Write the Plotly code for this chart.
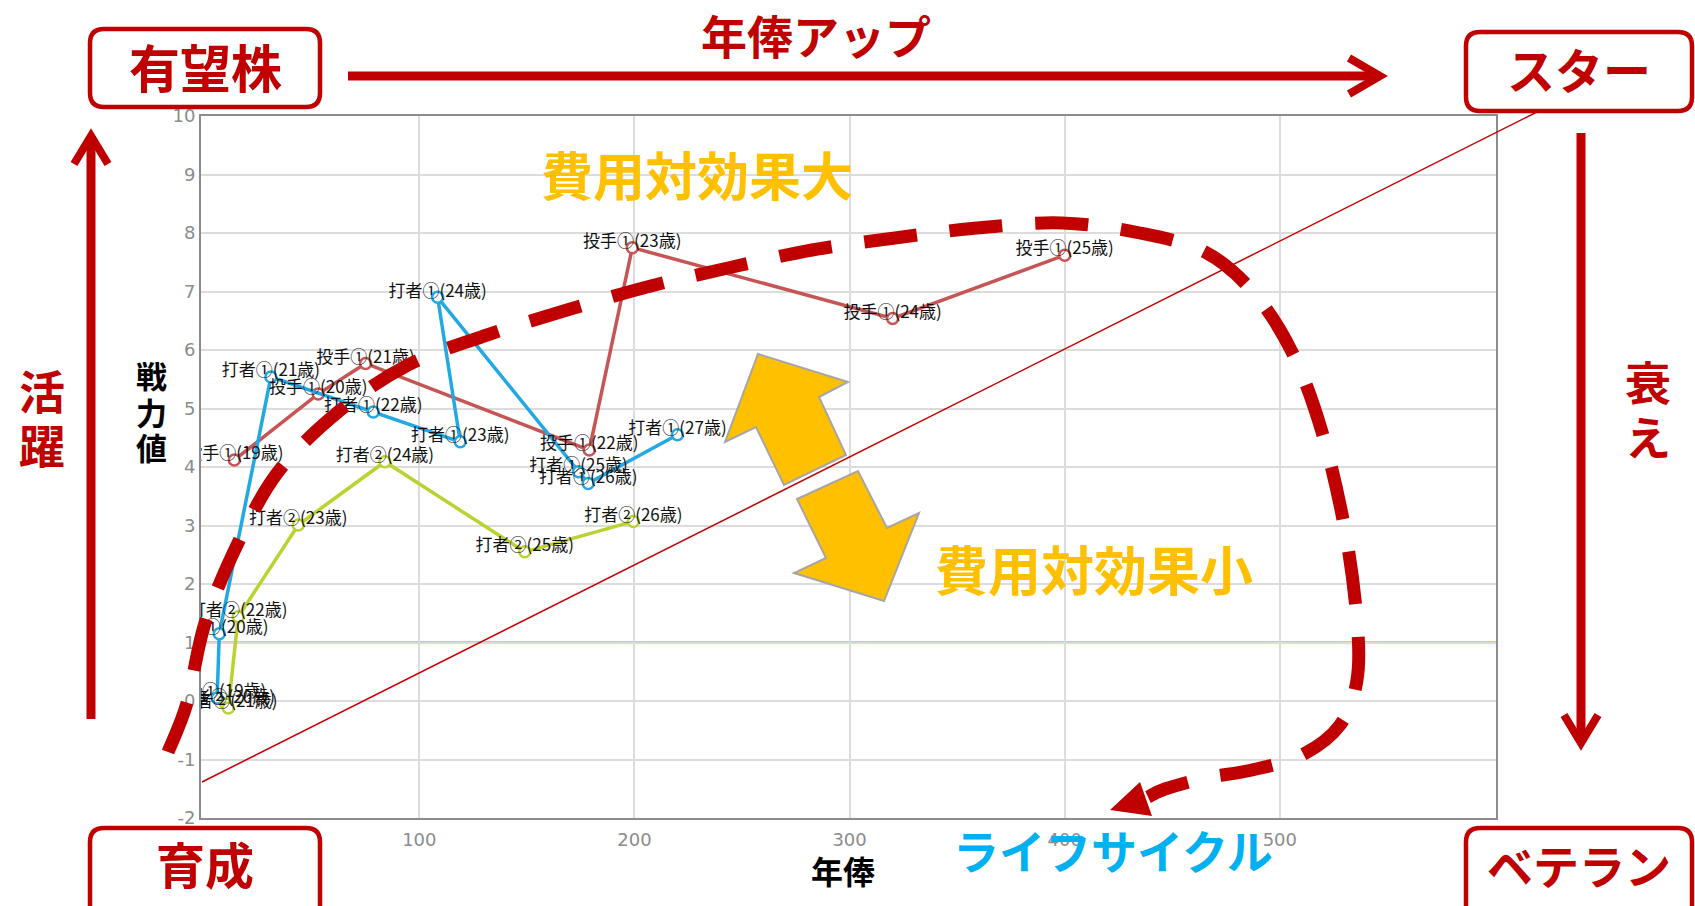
import plotly.graph_objects as go

# ---------------- data ----------------
pitcher_name = "投手①"
pitcher_ages = [19, 20, 21, 22, 23, 24, 25]
pitcher_salary = [14, 53, 75, 179, 199, 320, 400]
pitcher_power = [4.12, 5.25, 5.77, 4.29, 7.75, 6.54, 7.62]

batter1_name = "打者①"
batter1_ages = [19, 20, 21, 22, 23, 24, 25, 26, 27]
batter1_salary = [6, 7, 31, 78.6, 119, 108.5, 174, 178.5, 220]
batter1_power = [0.05, 1.15, 5.54, 4.94, 4.43, 6.9, 3.92, 3.72, 4.55]

batter2_name = "打者②"
batter2_ages = [20, 21, 22, 23, 24, 25, 26]
batter2_salary = [10, 11.2, 15.8, 43.7, 84, 149, 199.5]
batter2_power = [-0.05, -0.12, 1.44, 3.01, 4.09, 2.55, 3.07]

x_ticks = [100, 200, 300, 400, 500]
y_ticks = list(range(-2, 11))
y_tick_text = [str(v) for v in y_ticks]
threshold = 1

# ---------------- layout geometry ----------------
W, H = 1695, 906
L, R, T, B = 201, 1496, 116, 818
PW, PH = R - L, B - T

def X(px):
    return (px - L) / PW

def Y(py):
    return (B - py) / PH

DARK_RED = "#C00000"
FONT_JP = "Noto Sans CJK JP"

fig = go.Figure()

series = [
    (pitcher_name, pitcher_ages, pitcher_salary, pitcher_power, "#C65555"),
    (batter1_name, batter1_ages, batter1_salary, batter1_power, "#22A8E2"),
    (batter2_name, batter2_ages, batter2_salary, batter2_power, "#BCD230"),
]

for name, ages, xs, ys, col in series:
    fig.add_trace(go.Scatter(
        x=xs, y=ys, mode="lines+markers",
        line=dict(color=col, width=3.5),
        marker=dict(symbol="circle", size=11, color="white",
                    line=dict(color=col, width=2.5)),
        hoverinfo="skip", cliponaxis=True,
    ))

for name, ages, xs, ys, col in series:
    fig.add_trace(go.Scatter(
        x=xs, y=ys, yaxis="y2", mode="text",
        text=[f"{name}({a}歳)" for a in ages],
        textposition="middle center",
        textfont=dict(family=FONT_JP, size=17, color="#111111"),
        hoverinfo="skip", cliponaxis=True,
    ))

shapes = []

# threshold line at 1
shapes.append(dict(type="line", xref="paper", yref="y", x0=0, x1=1,
                   y0=threshold, y1=threshold, layer="between",
                   line=dict(color="#FF6A33", width=2)))

# thin diagonal line
shapes.append(dict(type="line", xref="paper", yref="paper",
                   x0=X(202), y0=Y(782), x1=X(1537), y1=Y(112),
                   line=dict(color=DARK_RED, width=1.5)))

# dashed life-cycle curve (catmull-rom -> bezier)
curve = [
    (168, 752), (187, 703), (205, 623), (238, 543), (278, 472), (338, 412),
    (408, 365), (487, 335), (567, 310), (647, 287), (728, 268), (812, 250),
    (895, 238), (977, 228), (1062, 223), (1140, 233), (1205, 252),
    (1253, 292), (1292, 352), (1322, 432), (1345, 530), (1357, 620),
    (1357, 680), (1340, 725), (1302, 755), (1252, 770), (1205, 778),
    (1165, 789), (1148, 797),
]

def catmull(pts):
    d = f"M{X(pts[0][0]):.5f},{Y(pts[0][1]):.5f}"
    n = len(pts)
    for i in range(n - 1):
        p0 = pts[i - 1] if i > 0 else pts[i]
        p1 = pts[i]
        p2 = pts[i + 1]
        p3 = pts[i + 2] if i + 2 < n else pts[i + 1]
        c1 = (p1[0] + (p2[0] - p0[0]) / 6, p1[1] + (p2[1] - p0[1]) / 6)
        c2 = (p2[0] - (p3[0] - p1[0]) / 6, p2[1] - (p3[1] - p1[1]) / 6)
        d += (f" C{X(c1[0]):.5f},{Y(c1[1]):.5f} {X(c2[0]):.5f},{Y(c2[1]):.5f}"
              f" {X(p2[0]):.5f},{Y(p2[1]):.5f}")
    return d

shapes.append(dict(type="path", xref="paper", yref="paper", path=catmull(curve),
                   line=dict(color=DARK_RED, width=13, dash="53px,33px")))

def poly(pts):
    return "M" + " L".join(f"{X(a):.5f},{Y(b):.5f}" for a, b in pts) + " Z"

# arrow head of the curve
shapes.append(dict(type="path", xref="paper", yref="paper",
                   path=poly([(1140, 782), (1110, 810), (1152, 816)]),
                   fillcolor=DARK_RED, line=dict(width=0)))

# yellow double arrow (two pieces)
up_arrow = [(758, 354), (848, 382), (819, 397), (846, 455), (784, 485),
            (756, 427), (725, 442)]
down_arrow = [(797, 499), (858, 471), (887, 528), (919, 513), (884, 601),
              (794, 573), (826, 558)]
for pts in (up_arrow, down_arrow):
    shapes.append(dict(type="path", xref="paper", yref="paper", path=poly(pts),
                       fillcolor="#FFC000", line=dict(color="#A6A6A6", width=2)))

# rounded boxes
def rbox(x0, y0, x1, y1, r=14):
    pts = (f"M{X(x0 + r):.5f},{Y(y0):.5f} L{X(x1 - r):.5f},{Y(y0):.5f} "
           f"Q{X(x1):.5f},{Y(y0):.5f} {X(x1):.5f},{Y(y0 + r):.5f} "
           f"L{X(x1):.5f},{Y(y1 - r):.5f} "
           f"Q{X(x1):.5f},{Y(y1):.5f} {X(x1 - r):.5f},{Y(y1):.5f} "
           f"L{X(x0 + r):.5f},{Y(y1):.5f} "
           f"Q{X(x0):.5f},{Y(y1):.5f} {X(x0):.5f},{Y(y1 - r):.5f} "
           f"L{X(x0):.5f},{Y(y0 + r):.5f} "
           f"Q{X(x0):.5f},{Y(y0):.5f} {X(x0 + r):.5f},{Y(y0):.5f} Z")
    return dict(type="path", xref="paper", yref="paper", path=pts,
                fillcolor="white", line=dict(color=DARK_RED, width=4.5))

shapes.append(rbox(90, 29, 320, 107))
shapes.append(rbox(1466, 32, 1692, 111))
shapes.append(rbox(90, 828, 320, 930))
shapes.append(rbox(1466, 828, 1692, 930))

# arrows: top horizontal, left vertical, right vertical
def seg(x0, y0, x1, y1, w=9):
    return dict(type="line", xref="paper", yref="paper",
                x0=X(x0), y0=Y(y0), x1=X(x1), y1=Y(y1),
                line=dict(color=DARK_RED, width=w))

def chevron(pts, w=8):
    d = "M" + " L".join(f"{X(a):.5f},{Y(b):.5f}" for a, b in pts)
    return dict(type="path", xref="paper", yref="paper", path=d,
                line=dict(color=DARK_RED, width=w))

shapes.append(seg(348, 76, 1378, 76))
shapes.append(chevron([(1349, 58), (1380, 76), (1349, 94)]))
shapes.append(seg(91, 719, 91, 137))
shapes.append(chevron([(74, 164), (91, 136), (108, 164)]))
shapes.append(seg(1581, 133, 1581, 743))
shapes.append(chevron([(1564, 715), (1581, 743), (1598, 715)]))

annotations = []

def txt(x, y, s, size, color, bold=True):
    annotations.append(dict(
        xref="paper", yref="paper", x=X(x), y=Y(y),
        text=(f"<b>{s}</b>" if bold else s),
        showarrow=False, xanchor="center", yanchor="middle",
        font=dict(family=FONT_JP, size=size, color=color)))

txt(205, 66, "有望株", 51, DARK_RED)
txt(1579, 68, "スター", 48, DARK_RED)
txt(205, 862, "育成", 49, DARK_RED)
txt(1579, 864, "ベテラン", 46, DARK_RED)
txt(816, 34, "年俸アップ", 46, DARK_RED)
txt(42, 389, "活", 46, DARK_RED)
txt(42, 443, "躍", 46, DARK_RED)
txt(1648, 380, "衰", 46, DARK_RED)
txt(1648, 435, "え", 46, DARK_RED)
txt(697, 173, "費用対効果大", 52, "#FFC000")
txt(1094, 568, "費用対効果小", 53, "#FFC000")
txt(1113, 849, "ライフサイクル", 46, "#00B0F0")
txt(151, 375, "戦", 31, "#000000")
txt(151, 411, "力", 31, "#000000")
txt(151, 446, "値", 31, "#000000")
txt(843, 870, "年俸", 32, "#000000")

tickfont = dict(family="DejaVu Sans", size=18, color="#8C8C8C")
d_shift = 5 * 12 / PH

fig.update_layout(
    width=W, height=H,
    margin=dict(l=L, r=W - R, t=T, b=H - B, pad=0),
    paper_bgcolor="white", plot_bgcolor="white",
    showlegend=False,
    xaxis=dict(range=[-1.5, 600.5], tickvals=x_ticks, showgrid=True,
               gridcolor="#DCDCDC", gridwidth=1.5, zeroline=False,
               showline=True, linecolor="#8C8C8C", linewidth=2, mirror=True,
               ticks="", tickfont=tickfont, ticklabelstandoff=4,
               fixedrange=True),
    yaxis=dict(range=[-2, 10], tickvals=y_ticks, ticktext=y_tick_text,
               showgrid=True,
               gridcolor="#DCDCDC", gridwidth=1.5, zeroline=False,
               showline=True, linecolor="#8C8C8C", linewidth=2, mirror=True,
               ticks="", tickfont=tickfont, fixedrange=True),
    yaxis2=dict(range=[-2 - d_shift, 10 - d_shift], overlaying="y",
                visible=False, fixedrange=True),
    shapes=shapes,
    annotations=annotations,
)

fig.write_html("out.html")
